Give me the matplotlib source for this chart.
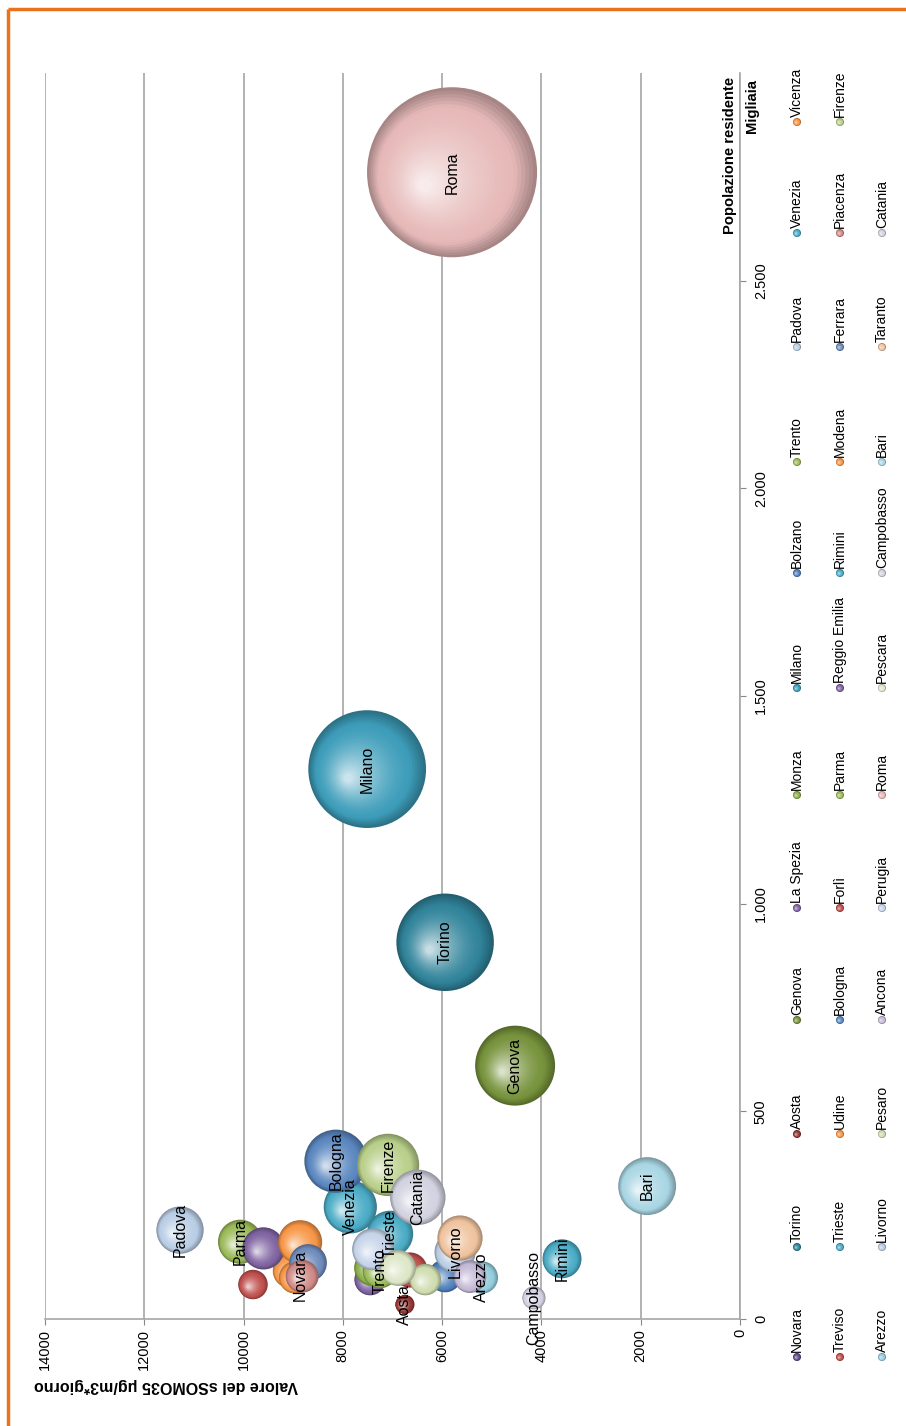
import numpy as np
import matplotlib
matplotlib.use("Agg")
import matplotlib.pyplot as plt
import matplotlib.colors as mcolors
import matplotlib.transforms as mtransforms
from matplotlib.ticker import FuncFormatter

plt.rcParams['font.family'] = ['Liberation Sans', 'DejaVu Sans']

# Data: resident population (thousands) and sSOMO35 value per city
cities = ["Novara", "Torino", "Aosta", "Genova", "La Spezia", "Monza", "Milano",
          "Bolzano", "Trento", "Padova", "Venezia", "Vicenza",
          "Treviso", "Trieste", "Udine", "Bologna", "Forlì", "Parma",
          "Reggio Emilia", "Rimini", "Modena", "Ferrara", "Piacenza", "Firenze",
          "Arezzo", "Livorno", "Pesaro", "Ancona", "Perugia", "Roma",
          "Pescara", "Campobasso", "Bari", "Taranto", "Catania"]
popolazione = [104, 907, 35, 610, 95, 123, 1324,
               104, 116, 214, 270, 116,
               83, 205, 100, 380, 118, 186,
               170, 145, 185, 135, 103, 371,
               100, 161, 95, 102, 168, 2761,
               123, 51, 320, 195, 293]
somo35 = [8860, 5940, 6750, 4530, 7450, 7410, 7510,
          5940, 7250, 11280, 7850, 9060,
          9810, 7050, 8960, 8140, 6650, 10070,
          9600, 3585, 8860, 8700, 8820, 7090,
          5200, 5740, 6340, 5440, 7390, 5800,
          6890, 4150, 1870, 5640, 6490]
colori = ["#5F4B8B", "#31849B", "#953735", "#77933C", "#8064A2", "#8CB04A", "#3D9DBA",
          "#4F81BD", "#9BBB59", "#B9CDE5", "#4BACC6", "#F79646",
          "#C0504D", "#4BACC6", "#F79646", "#5B87C0", "#C0504D", "#9BBB59",
          "#8064A2", "#4BACC6", "#F79646", "#6F8DBD", "#D08A88", "#B9CF8A",
          "#93CDDD", "#B9CDE5", "#CFDDB0", "#C4B9D6", "#C6D4EA", "#E6B9B8",
          "#DDE6C6", "#D4D0E2", "#A9D6E3", "#EFC39E", "#D2D2E0"]
etichette = ["Roma", "Milano", "Torino", "Genova", "Bari", "Bologna", "Firenze",
             "Venezia", "Catania", "Padova", "Parma", "Trieste", "Trento",
             "Livorno", "Rimini", "Campobasso", "Arezzo", "Aosta", "Novara"]

fig = plt.figure(figsize=(9.06, 14.26), dpi=100)
ax = fig.add_axes([45 / 906, 1 - 1319 / 1426, 695 / 906, 1246 / 1426])


def sphere(axis, x, y, s, color, z, n=28):
    # fake 3D bubble: concentric discs getting lighter towards a highlight
    R = np.sqrt(s) / 2
    base = np.array(mcolors.to_rgb(color))
    for k in range(n):
        t = k / (n - 1)
        frac = 1 - 0.92 * t
        if t < 0.2:
            c = base * (0.72 + 0.28 * t / 0.2)
        else:
            u = (t - 0.2) / 0.8
            c = base + (1 - base) * 0.72 * u ** 1.5
        off = mtransforms.ScaledTranslation(-0.32 * R * t / 72, -0.15 * R * t / 72,
                                            fig.dpi_scale_trans)
        axis.scatter([x], [y], s=s * frac ** 2, color=np.clip(c, 0, 1),
                     edgecolors='none', transform=axis.transData + off, zorder=z)


k_size = 5.43
for i in range(len(cities)):
    sphere(ax, somo35[i], popolazione[i], popolazione[i] * k_size, colori[i], 3 + i * 0.01)

for name in etichette:
    i = cities.index(name)
    ax.text(somo35[i], popolazione[i], name, rotation=90, ha='center', va='center',
            fontsize=11.5, zorder=10)

ax.set_xlim(14000, 0)
ax.set_ylim(0, 3000)
ax.set_xticks(np.arange(0, 14001, 2000))
ax.set_yticks(np.arange(0, 2501, 500))
ax.yaxis.tick_right()
ax.yaxis.set_major_formatter(FuncFormatter(lambda v, p: f"{int(v):,}".replace(',', '.')))
ax.tick_params(axis='x', labelrotation=90, labelsize=10.5, color='#888888', length=4, pad=3)
ax.tick_params(axis='y', labelrotation=90, labelsize=10.5, color='#888888', length=4, pad=6)
for lab in ax.get_yticklabels():
    lab.set_va('center')
ax.grid(axis='x', color='#A6A6A6', linewidth=1.2)
ax.set_axisbelow(True)
for side in ['top', 'left']:
    ax.spines[side].set_visible(False)
for side in ['bottom', 'right']:
    ax.spines[side].set_color('#A6A6A6')
    ax.spines[side].set_linewidth(1.2)

# overlay in pixel coordinates for titles, legend and frame
ov = fig.add_axes([0, 0, 1, 1])
ov.set_xlim(0, 906)
ov.set_ylim(1426, 0)
ov.axis('off')
ov.plot([8, 906], [9, 9], color='#E8731A', linewidth=2.5, solid_capstyle='butt')
ov.plot([8, 8], [9, 1426], color='#E8731A', linewidth=2.5, solid_capstyle='butt')

ov.text(166, 1385, "Valore del sSOMO35 μg/m3*giorno", rotation=180, ha='center',
        va='center', fontsize=11.5, fontweight='bold')
ov.text(730, 77, "Popolazione residente", rotation=90, ha='center', va='top',
        fontsize=10.7, fontweight='bold')
ov.text(752, 79, "Migliaia", rotation=90, ha='center', va='top',
        fontsize=10.7, fontweight='bold')

slot_y = [1357, 1247, 1134, 1020, 908, 795, 688, 573, 462, 347, 233, 122]
col_x = [797, 840, 882]
for i, name in enumerate(cities):
    cx = col_x[i // 12]
    cy = slot_y[i % 12]
    sphere(ov, cx, cy, 34, colori[i], 5, n=6)
    ov.text(cx, cy - 5, name, rotation=90, ha='center', va='bottom', fontsize=10)

fig.savefig("out.png", dpi=100)
